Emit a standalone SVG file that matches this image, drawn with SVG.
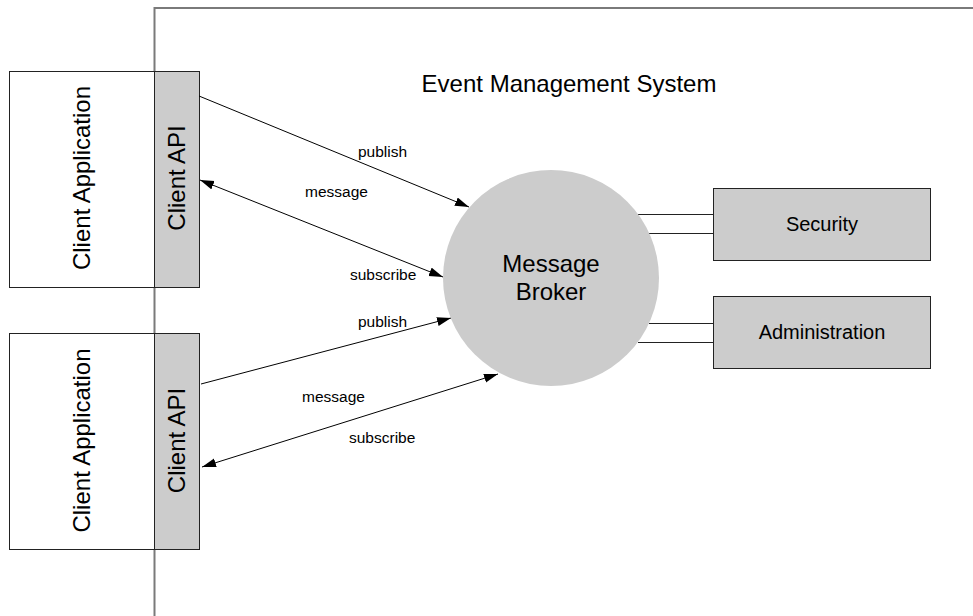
<svg xmlns="http://www.w3.org/2000/svg" width="973" height="616" viewBox="0 0 973 616">
  <style>
    .big { font-family: "Liberation Sans", Arial, sans-serif; font-size: 24px; fill: #000; }
    .mid { font-family: "Liberation Sans", Arial, sans-serif; font-size: 20px; fill: #000; }
    .lbl { font-family: "Liberation Sans", Arial, sans-serif; font-size: 15.5px; fill: #000; }
    .app { fill: #ffffff; stroke: #222; stroke-width: 1; }
    .api { fill: #cccccc; stroke: #222; stroke-width: 1; }
    .svc { fill: #cccccc; stroke: #222; stroke-width: 1; }
    .conn { stroke: #000; stroke-width: 1; fill: none; }
    .link { stroke: #222; stroke-width: 1; fill: none; }
  </style>
  <defs>
    <marker id="arrow" markerUnits="userSpaceOnUse" markerWidth="15" markerHeight="10" refX="14" refY="4.5" orient="auto-start-reverse" viewBox="0 0 15 10">
      <path d="M0,0 L14,4.5 L0,9 z" fill="#000"/>
    </marker>
  </defs>
  <rect width="973" height="616" fill="#ffffff"/>

  <g id="system-frame">
    <path d="M154.5,616 L154.5,8 L973,8" fill="none" stroke="#7a7a7a" stroke-width="2"/>
    <text class="big" x="569" y="92" text-anchor="middle">Event Management System</text>
  </g>

  <g id="client-app-1">
    <rect class="app" x="9.5" y="71.5" width="145" height="216"/>
    <text class="big" transform="translate(89.5,178) rotate(-90)" text-anchor="middle">Client Application</text>
  </g>
  <g id="client-api-1">
    <rect class="api" x="154.5" y="71.5" width="45" height="216"/>
    <text class="big" transform="translate(184.5,178) rotate(-90)" text-anchor="middle">Client API</text>
  </g>

  <g id="client-app-2">
    <rect class="app" x="9.5" y="333.5" width="145" height="216"/>
    <text class="big" transform="translate(89.5,440.5) rotate(-90)" text-anchor="middle">Client Application</text>
  </g>
  <g id="client-api-2">
    <rect class="api" x="154.5" y="333.5" width="45" height="216"/>
    <text class="big" transform="translate(184.5,440.5) rotate(-90)" text-anchor="middle">Client API</text>
  </g>

  <g id="connectors">
    <line class="link" x1="638" y1="214.5" x2="713" y2="214.5"/>
    <line class="link" x1="649" y1="233.5" x2="713" y2="233.5"/>
    <line class="link" x1="649" y1="323.5" x2="713" y2="323.5"/>
    <line class="link" x1="638" y1="342.5" x2="713" y2="342.5"/>
    <line class="conn" x1="199" y1="96" x2="469" y2="207" marker-end="url(#arrow)"/>
    <line class="conn" x1="200" y1="180" x2="443" y2="277" marker-start="url(#arrow)" marker-end="url(#arrow)"/>
    <line class="conn" x1="201" y1="384" x2="451" y2="318" marker-end="url(#arrow)"/>
    <line class="conn" x1="202" y1="467" x2="498" y2="374" marker-start="url(#arrow)" marker-end="url(#arrow)"/>
    <text class="lbl" x="358" y="157">publish</text>
    <text class="lbl" x="305" y="197">message</text>
    <text class="lbl" x="350" y="280">subscribe</text>
    <text class="lbl" x="358" y="326.5">publish</text>
    <text class="lbl" x="302" y="402">message</text>
    <text class="lbl" x="349" y="443">subscribe</text>
  </g>

  <g id="message-broker">
    <circle cx="551" cy="278" r="108" fill="#cccccc"/>
    <text class="big" x="551" y="271.5" text-anchor="middle">Message</text>
    <text class="big" x="551" y="300" text-anchor="middle">Broker</text>
  </g>

  <g id="security">
    <rect class="svc" x="713.5" y="188.5" width="217" height="72"/>
    <text class="mid" x="822" y="231" text-anchor="middle">Security</text>
  </g>
  <g id="administration">
    <rect class="svc" x="713.5" y="296.5" width="217" height="72"/>
    <text class="mid" x="822" y="339" text-anchor="middle">Administration</text>
  </g>
</svg>
